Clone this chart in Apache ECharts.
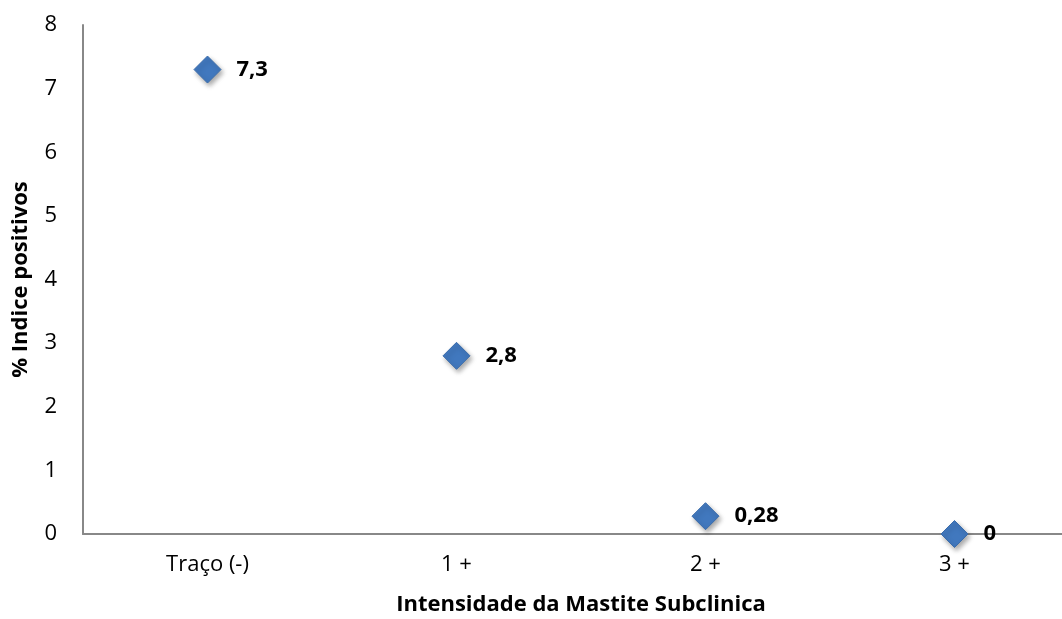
<!DOCTYPE html>
<html>
<head>
<meta charset="utf-8">
<script src="https://cdn.jsdelivr.net/npm/echarts@6/dist/echarts.min.js"></script>
<style>
  html, body { margin: 0; padding: 0; background: #ffffff; }
  #chart { width: 1062px; height: 619px; }
</style>
</head>
<body>
<div id="chart"></div>
<script>
// Categories and values
const categories = ['Traço (-)', '1 +', '2 +', '3 +'];
const indicePositivos = [7.3, 2.8, 0.28, 0];
const yTicks = [0, 1, 2, 3, 4, 5, 6, 7, 8];

const fontFamily = '"Open Sans", "Liberation Sans", sans-serif';
const chart = echarts.init(document.getElementById('chart'));

chart.setOption({
  animation: false,
  grid: {
    left: 83, right: -17, top: 25, bottom: 85,
    containLabel: false,
    outerBoundsMode: 'none'
  },
  xAxis: {
    type: 'category',
    data: categories,
    name: 'Intensidade da Mastite Subclinica',
    nameLocation: 'middle',
    nameGap: 60,
    nameTextStyle: { fontFamily, fontSize: 22, fontWeight: 'bold', color: '#000' },
    axisLine: { lineStyle: { color: '#888888', width: 2 } },
    axisTick: { show: false },
    axisLabel: { fontFamily, fontSize: 22, color: '#000', margin: 20 },
    splitLine: { show: false }
  },
  yAxis: {
    type: 'value',
    min: yTicks[0],
    max: yTicks[yTicks.length - 1],
    interval: 1,
    name: '% Indice positivos',
    nameLocation: 'middle',
    nameGap: 51,
    nameTextStyle: { fontFamily, fontSize: 22, fontWeight: 'bold', color: '#000' },
    axisLine: { show: true, lineStyle: { color: '#888888', width: 2 } },
    axisTick: { show: false },
    axisLabel: { fontFamily, fontSize: 22, color: '#000', margin: 26 },
    splitLine: { show: false }
  },
  series: [{
    type: 'scatter',
    data: indicePositivos,
    symbol: 'diamond',
    symbolSize: [27, 27],
    itemStyle: {
      color: '#4178be',
      opacity: 1,
      borderColor: '#3a6cab',
      borderWidth: 1,
      shadowBlur: 5,
      shadowOffsetX: 2,
      shadowOffsetY: 3,
      shadowColor: 'rgba(0,0,0,0.35)'
    },
    label: {
      show: true,
      position: 'right',
      distance: 15,
      fontFamily,
      fontSize: 22,
      fontWeight: 'bold',
      color: '#000',
      formatter: p => String(p.value).replace('.', ',')
    },
    z: 5
  }]
});
</script>
</body>
</html>
